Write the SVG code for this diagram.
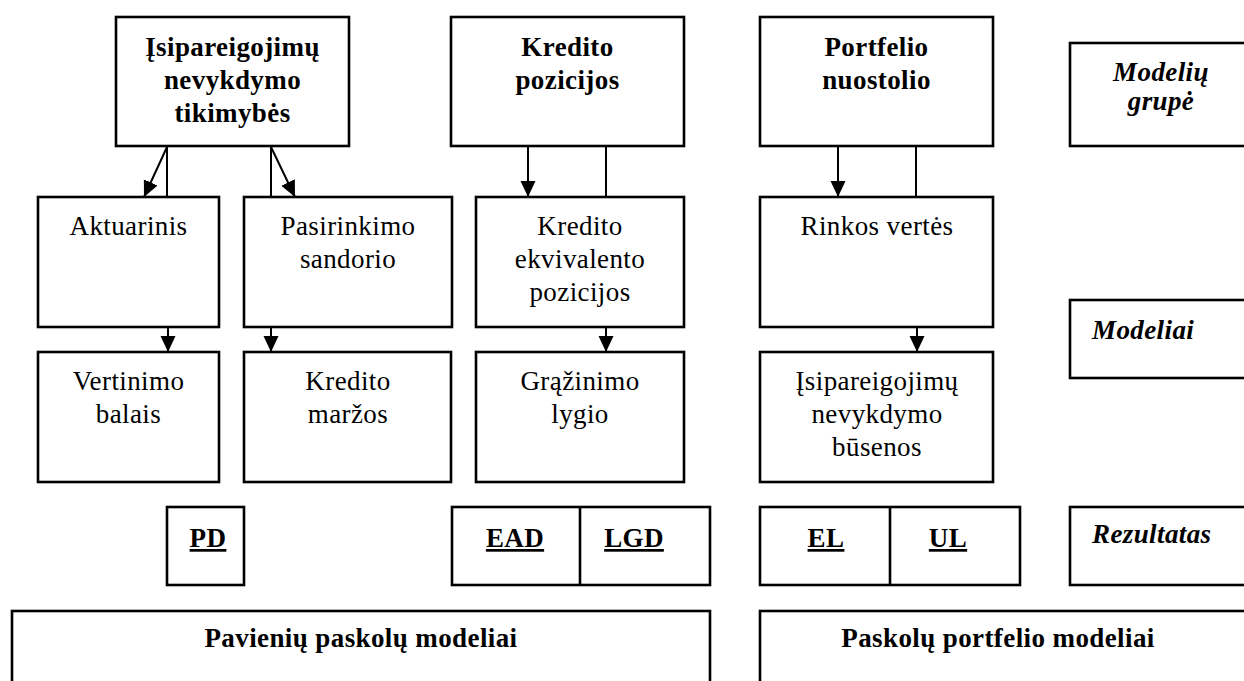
<svg xmlns="http://www.w3.org/2000/svg" width="1244" height="681" viewBox="0 0 1244 681">
<style>
  .box { fill: #fff; stroke: #000; stroke-width: 2.6; }
  .t { font-family: 'Liberation Serif', 'DejaVu Serif', serif; font-size: 27px; letter-spacing: 0.4px; fill: #000; text-anchor: middle; }
  .b { font-weight: bold; }
  .i { font-style: italic; font-weight: bold; }
  .u { text-decoration: underline; }
  .l { text-anchor: start; }
  .c { stroke: #000; stroke-width: 2; fill: none; }
  .div { stroke: #000; stroke-width: 2.6; }
</style>
<defs>
  <marker id="arr" markerUnits="userSpaceOnUse" markerWidth="18" markerHeight="18" refX="16" refY="7.5" orient="auto">
    <path d="M0,0 L16,7.5 L0,15 z" fill="#000"/>
  </marker>
</defs>
<rect width="1244" height="681" fill="#fff"/>

<g id="connectors">
  <line class="c" x1="167" y1="147" x2="144" y2="197" marker-end="url(#arr)"/>
  <line class="c" x1="167" y1="147" x2="167" y2="197"/>
  <line class="c" x1="271" y1="147" x2="271" y2="197"/>
  <line class="c" x1="271" y1="147" x2="295" y2="197" marker-end="url(#arr)"/>
  <line class="c" x1="528" y1="147" x2="528" y2="197" marker-end="url(#arr)"/>
  <line class="c" x1="606" y1="147" x2="606" y2="197"/>
  <line class="c" x1="838" y1="147" x2="838" y2="197" marker-end="url(#arr)"/>
  <line class="c" x1="916" y1="147" x2="916" y2="197"/>
  <line class="c" x1="168" y1="328" x2="168" y2="352" marker-end="url(#arr)"/>
  <line class="c" x1="271" y1="328" x2="271" y2="352" marker-end="url(#arr)"/>
  <line class="c" x1="606" y1="328" x2="606" y2="352" marker-end="url(#arr)"/>
  <line class="c" x1="917" y1="328" x2="917" y2="352" marker-end="url(#arr)"/>
</g>

<g id="pd-group">
  <rect class="box" x="116" y="17" width="233" height="129"/>
  <text class="t b" x="232.5" y="56">Įsipareigojimų</text>
  <text class="t b" x="232.5" y="89">nevykdymo</text>
  <text class="t b" x="232.5" y="122">tikimybės</text>
</g>
<g id="credit-group">
  <rect class="box" x="451" y="17" width="233" height="129"/>
  <text class="t b" x="567.5" y="56">Kredito</text>
  <text class="t b" x="567.5" y="89">pozicijos</text>
</g>
<g id="portfolio-group">
  <rect class="box" x="760" y="17" width="233" height="129"/>
  <text class="t b" x="876.5" y="56">Portfelio</text>
  <text class="t b" x="876.5" y="89">nuostolio</text>
</g>
<g id="legend-group">
  <rect class="box" x="1070" y="43" width="200" height="103"/>
  <text class="t i" x="1161" y="81">Modelių</text>
  <text class="t i" x="1161" y="110">grupė</text>
</g>

<g id="aktuarinis">
  <rect class="box" x="38" y="197" width="181" height="130"/>
  <text class="t" x="128.5" y="235">Aktuarinis</text>
</g>
<g id="pasirinkimo">
  <rect class="box" x="244" y="197" width="208" height="130"/>
  <text class="t" x="348" y="235">Pasirinkimo</text>
  <text class="t" x="348" y="268">sandorio</text>
</g>
<g id="kredito-ekv">
  <rect class="box" x="476" y="197" width="208" height="130"/>
  <text class="t" x="580" y="235">Kredito</text>
  <text class="t" x="580" y="268">ekvivalento</text>
  <text class="t" x="580" y="301">pozicijos</text>
</g>
<g id="rinkos">
  <rect class="box" x="760" y="197" width="233" height="130"/>
  <text class="t" x="877" y="235">Rinkos vertės</text>
</g>
<g id="legend-models">
  <rect class="box" x="1070" y="300" width="200" height="78"/>
  <text class="t i l" x="1092" y="339">Modeliai</text>
</g>

<g id="vertinimo">
  <rect class="box" x="38" y="352" width="181" height="130"/>
  <text class="t" x="128.5" y="390">Vertinimo</text>
  <text class="t" x="128.5" y="423">balais</text>
</g>
<g id="marzos">
  <rect class="box" x="244" y="352" width="207" height="130"/>
  <text class="t" x="348" y="390">Kredito</text>
  <text class="t" x="348" y="423">maržos</text>
</g>
<g id="grazinimo">
  <rect class="box" x="476" y="352" width="208" height="130"/>
  <text class="t" x="580" y="390">Grąžinimo</text>
  <text class="t" x="580" y="423">lygio</text>
</g>
<g id="busenos">
  <rect class="box" x="760" y="352" width="233" height="130"/>
  <text class="t" x="877" y="390">Įsipareigojimų</text>
  <text class="t" x="877" y="423">nevykdymo</text>
  <text class="t" x="877" y="456">būsenos</text>
</g>

<g id="pd">
  <rect class="box" x="167" y="507" width="77" height="78"/>
  <text class="t b u" x="208" y="547">PD</text>
</g>
<g id="ead-lgd">
  <rect class="box" x="452" y="507" width="258" height="78"/>
  <line class="div" x1="580" y1="507" x2="580" y2="585"/>
  <text class="t b u" x="515" y="547">EAD</text>
  <text class="t b u" x="634" y="547">LGD</text>
</g>
<g id="el-ul">
  <rect class="box" x="760" y="507" width="260" height="78"/>
  <line class="div" x1="890" y1="507" x2="890" y2="585"/>
  <text class="t b u" x="826" y="547">EL</text>
  <text class="t b u" x="948" y="547">UL</text>
</g>
<g id="legend-result">
  <rect class="box" x="1070" y="507" width="200" height="78"/>
  <text class="t i l" x="1092" y="543">Rezultatas</text>
</g>

<g id="single-loan-models">
  <rect class="box" x="12" y="611" width="698" height="100"/>
  <text class="t b" x="361" y="647">Pavienių paskolų modeliai</text>
</g>
<g id="portfolio-models">
  <rect class="box" x="760" y="611" width="520" height="100"/>
  <text class="t b" x="998" y="647">Paskolų portfelio modeliai</text>
</g>
</svg>
